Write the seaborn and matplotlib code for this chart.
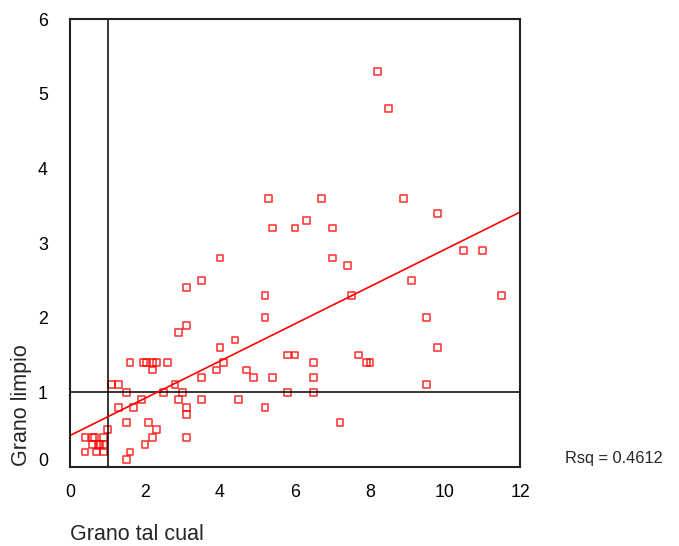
import matplotlib
matplotlib.use("Agg")
import matplotlib.pyplot as plt
import matplotlib.transforms as mtransforms
import numpy as np
import pandas as pd
import seaborn as sns

# Grano tal cual (x) vs Grano limpio (y)
grano_tal_cual = [
    0.4, 0.6, 0.65, 0.9,
    0.6, 0.75, 0.8, 0.9,
    0.4, 0.7, 0.9,
    1.0,
    1.5, 1.6, 2.0, 2.2, 2.3, 1.5, 2.1,
    1.3, 1.7, 1.9, 1.5, 1.1, 1.3,
    1.6, 1.95, 2.05, 2.2, 2.3, 2.2, 2.6,
    2.8, 2.5, 3.0, 2.9, 3.1, 3.1, 3.1,
    3.5, 3.5, 2.9, 3.1, 3.1, 3.5, 4.0,
    4.4, 4.0, 4.1, 3.9, 4.7, 4.9, 4.5,
    5.4, 5.2, 5.8, 6.0, 6.5, 6.5, 6.5, 5.8,
    7.7, 7.9, 8.0, 9.8, 9.5, 7.2,
    5.2, 5.2, 7.5, 7.4, 7.0, 9.1, 9.5, 11.5,
    10.5, 11.0, 9.8, 8.9, 5.3, 6.7, 6.3, 5.4, 6.0, 7.0,
    8.2, 8.5,
]
grano_limpio = [
    0.4, 0.4, 0.4, 0.4,
    0.3, 0.3, 0.3, 0.3,
    0.2, 0.2, 0.2,
    0.5,
    0.1, 0.2, 0.3, 0.4, 0.5, 0.6, 0.6,
    0.8, 0.8, 0.9, 1.0, 1.1, 1.1,
    1.4, 1.4, 1.4, 1.4, 1.4, 1.3, 1.4,
    1.1, 1.0, 1.0, 0.9, 0.8, 0.7, 0.4,
    1.2, 0.9, 1.8, 1.9, 2.4, 2.5, 2.8,
    1.7, 1.6, 1.4, 1.3, 1.3, 1.2, 0.9,
    1.2, 0.8, 1.5, 1.5, 1.4, 1.2, 1.0, 1.0,
    1.5, 1.4, 1.4, 1.6, 1.1, 0.6,
    2.0, 2.3, 2.3, 2.7, 2.8, 2.5, 2.0, 2.3,
    2.9, 2.9, 3.4, 3.6, 3.6, 3.6, 3.3, 3.2, 3.2, 3.2,
    5.3, 4.8,
]
x_ticks = [0, 2, 4, 6, 8, 10, 12]
y_ticks = [0, 1, 2, 3, 4, 5, 6]
x_title = "Grano tal cual"
y_title = "Grano limpio"
rsq_text = "Rsq = 0.4612"

df = pd.DataFrame({"tal_cual": grano_tal_cual, "limpio": grano_limpio})

sns.set_style("white")
plt.rcParams["font.family"] = ["Liberation Sans", "DejaVu Sans"]

fig = plt.figure(figsize=(6.79, 5.46), dpi=100)
ax = fig.add_axes([70 / 679, 1 - 467 / 546, 450 / 679, 448 / 546])
ax.set_xlim(0, 12)
ax.set_ylim(0, 6)

sns.regplot(
    data=df, x="tal_cual", y="limpio", ax=ax, ci=None, truncate=False,
    marker="s",
    scatter_kws=dict(s=24, facecolors="none", edgecolors="red", linewidths=1.15),
    line_kws=dict(color="red", lw=1.2),
)

# reference lines at 1
ax.axvline(1, color="black", lw=1.1, zorder=1)
ax.axhline(1, color="black", lw=1.1, zorder=1)

ax.set_xlim(0, 12)
ax.set_ylim(0, 6)
ax.set_xticks(x_ticks)
ax.set_yticks(y_ticks)
ax.set_xlabel("")
ax.set_ylabel("")
for sp in ax.spines.values():
    sp.set_visible(True)
    sp.set_color("#222222")
    sp.set_linewidth(1.5)
ax.tick_params(axis="both", which="major", direction="out", length=3, width=2,
               color="black", labelsize=12.8, labelcolor="black")
ax.tick_params(axis="y", pad=13)
ax.tick_params(axis="x", pad=9)

# lift the zero label on the y axis slightly
lbl0 = ax.get_yticklabels()[0]
lbl0.set_transform(lbl0.get_transform() +
                   mtransforms.ScaledTranslation(0, 8 / 100, fig.dpi_scale_trans))

fig.text(70 / 679, 1 - 535 / 546, x_title, fontsize=15.5, ha="left", va="center")
fig.text(22 / 679, 1 - 466 / 546, y_title, fontsize=15.5, ha="center", va="bottom",
         rotation=90)
fig.text(565 / 679, 1 - 458 / 546, rsq_text, fontsize=11.8, ha="left", va="center")

fig.savefig("out.png", dpi=100, facecolor="white")
